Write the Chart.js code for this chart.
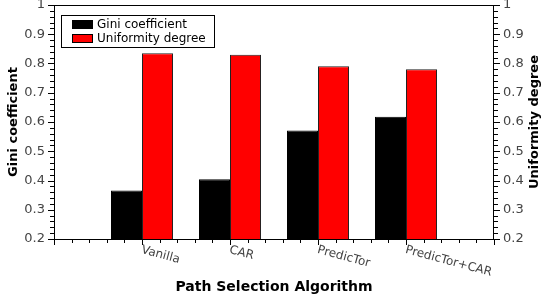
<!DOCTYPE html>
<html>
<head>
<meta charset="UTF-8">
<script src="https://cdn.jsdelivr.net/npm/chart.js"></script>
<style>
  html, body { margin: 0; padding: 0; background: #fff; }
  #wrap { width: 542px; height: 302px; }
</style>
</head>
<body>
<div id="wrap"><canvas id="chart"></canvas></div>
<script>
// categories (empty slots at both ends keep the axis from 0 to 5)
const algorithms = ['', 'Vanilla', 'CAR', 'PredicTor', 'PredicTor+CAR', ''];
const giniValues = [null, 0.366, 0.404, 0.571, 0.618, null];
const uniformityValues = [null, 0.835, 0.830, 0.791, 0.780, null];
const axisMin = 0.2;
const axisMax = 1;
const yStep = 0.1;
const rightTitle = 'Uniformity degree';

const FONT = "'DejaVu Sans', Verdana, sans-serif";

// minor/major tick marks, frame, rotated x labels, right title, legend box
const decorPlugin = {
    id: 'decor',
    afterDraw(chart) {
        const ctx = chart.ctx;
        const area = chart.chartArea;
        const x = chart.scales.x;
        const y = chart.scales.y;
        const y1 = chart.scales.y1;
        ctx.save();
        ctx.strokeStyle = '#000';
        ctx.lineWidth = 1;

        // frame
        ctx.strokeRect(area.left + 0.5, area.top + 0.5, area.right - area.left - 1, area.bottom - area.top);

        // y ticks, every 0.02
        ctx.beginPath();
        for (let i = axisMin * 50; i <= axisMax * 50; i++) {
            const py = Math.round(y.getPixelForValue(i / 50)) + 0.5;
            const len = i % 5 === 0 ? 6 : 4;
            ctx.moveTo(area.left, py);
            ctx.lineTo(area.left - len, py);
            const py1 = Math.round(y1.getPixelForValue(i / 50)) + 0.5;
            ctx.moveTo(area.right, py1);
            ctx.lineTo(area.right + len, py1);
        }
        // x ticks, five per category
        for (let j = 0; j <= (algorithms.length - 1) * 5; j++) {
            const px = Math.round(x.getPixelForValue(j / 5)) + 0.5;
            const len = j % 5 === 0 ? 6 : 4;
            ctx.moveTo(px, area.bottom);
            ctx.lineTo(px, area.bottom + len);
        }
        ctx.stroke();

        // rotated category labels
        ctx.fillStyle = '#444';
        ctx.font = '12px ' + FONT;
        ctx.textAlign = 'left';
        ctx.textBaseline = 'top';
        algorithms.forEach((name, i) => {
            if (!name) return;
            const px = x.getPixelForValue(i);
            ctx.save();
            ctx.translate(px + 1, area.bottom + 5);
            ctx.rotate(15 * Math.PI / 180);
            ctx.fillText(name, 0, 0);
            ctx.restore();
        });

        // right axis title, reading upwards like the left one
        ctx.save();
        ctx.translate(y1.right - 7, (area.top + area.bottom) / 2);
        ctx.rotate(-Math.PI / 2);
        ctx.fillStyle = '#000';
        ctx.font = 'bold 13px ' + FONT;
        ctx.textAlign = 'center';
        ctx.textBaseline = 'middle';
        ctx.fillText(rightTitle, 0, 0);
        ctx.restore();

        // legend
        const lx = area.left + 7, ly = area.top + 10;
        ctx.fillStyle = '#fff';
        ctx.fillRect(lx, ly, 153, 32);
        ctx.strokeRect(lx + 0.5, ly + 0.5, 153, 32);
        ctx.font = '12px ' + FONT;
        ctx.textBaseline = 'middle';
        chart.data.datasets.forEach((ds, k) => {
            const cy = ly + 9 + k * 14;
            ctx.fillStyle = ds.backgroundColor;
            ctx.fillRect(lx + 11, cy - 4, 20, 8);
            ctx.strokeRect(lx + 11.5, cy - 3.5, 20, 8);
            ctx.fillStyle = '#000';
            ctx.fillText(ds.label, lx + 36, cy + 1);
        });
        ctx.restore();
    }
};

const tickFormat = value => Number(value.toFixed(1)).toString();

new Chart(document.getElementById('chart'), {
    type: 'bar',
    data: {
        labels: algorithms,
        datasets: [
            {
                label: 'Gini coefficient',
                data: giniValues,
                backgroundColor: '#000000',
                borderColor: '#000000',
                borderWidth: 1,
                yAxisID: 'y'
            },
            {
                label: 'Uniformity degree',
                data: uniformityValues,
                backgroundColor: '#ff0000',
                borderColor: '#222222',
                borderWidth: 1,
                yAxisID: 'y1'
            }
        ]
    },
    options: {
        responsive: true,
        maintainAspectRatio: false,
        animation: false,
        categoryPercentage: 0.705,
        barPercentage: 1,
        layout: { padding: { top: 5, left: 0, right: 0, bottom: 0 } },
        plugins: {
            legend: { display: false },
            tooltip: { enabled: false }
        },
        scales: {
            x: {
                offset: false,
                grid: { display: false },
                border: { display: false },
                ticks: { display: false },
                title: {
                    display: true,
                    text: 'Path Selection Algorithm',
                    color: '#000',
                    font: { family: FONT, size: 14, weight: 'bold' },
                    padding: { top: 4, bottom: 6 }
                },
                afterFit(scale) { scale.height = 63; scale.paddingLeft = 0; scale.paddingRight = 0; }
            },
            y: {
                position: 'left',
                min: axisMin,
                max: axisMax,
                grid: { display: false, tickLength: 8 },
                border: { display: false },
                ticks: {
                    stepSize: yStep,
                    color: '#444',
                    padding: 1,
                    font: { family: FONT, size: 13 },
                    callback: tickFormat
                },
                title: {
                    display: true,
                    text: 'Gini coefficient',
                    color: '#000',
                    font: { family: FONT, size: 13, weight: 'bold' },
                    padding: { top: 6, bottom: 4 }
                },
                afterFit(scale) { scale.width = 54; scale.paddingTop = 0; scale.paddingBottom = 0; }
            },
            y1: {
                position: 'right',
                min: axisMin,
                max: axisMax,
                grid: { display: false, tickLength: 8 },
                border: { display: false },
                ticks: {
                    stepSize: yStep,
                    color: '#444',
                    padding: 1,
                    font: { family: FONT, size: 13 },
                    callback: tickFormat
                },
                afterFit(scale) { scale.width = 48; scale.paddingTop = 0; scale.paddingBottom = 0; }
            }
        }
    },
    plugins: [decorPlugin]
});
</script>
</body>
</html>
